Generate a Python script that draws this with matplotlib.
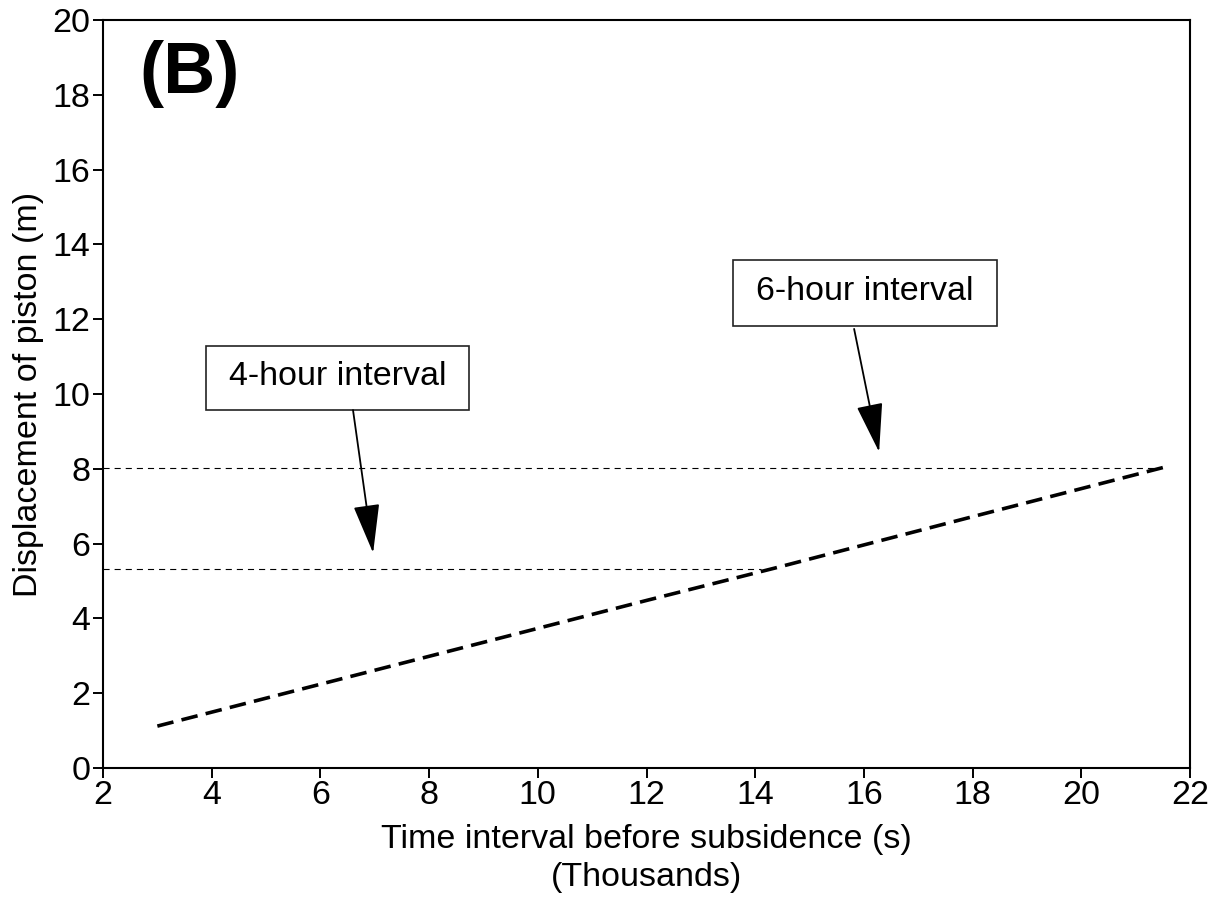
import matplotlib
matplotlib.use("Agg")
import matplotlib.pyplot as plt
from matplotlib.patches import Rectangle, FancyArrowPatch, ArrowStyle

plt.rcParams['font.family'] = ['Liberation Sans', 'DejaVu Sans']

# Piston displacement versus time before subsidence (time in thousands of s)
time_k = [3.0, 6.0, 9.0, 12.0, 14.4, 18.0, 21.6]
displacement = [1.12, 2.24, 3.36, 4.48, 5.36, 6.72, 8.07]

# Reference levels reached after 4 and 6 hours
level_labels = ["4-hour interval", "6-hour interval"]
level_values = [5.33, 8.02]
level_end_time = [14.1, 21.4]

x_ticks = [2, 4, 6, 8, 10, 12, 14, 16, 18, 20, 22]
y_ticks = [0, 2, 4, 6, 8, 10, 12, 14, 16, 18, 20]

fig = plt.figure(figsize=(12.27, 9.0), dpi=100)
ax = fig.add_axes([103 / 1227, 1 - 768 / 900, 1087 / 1227, 748 / 900])

ax.set_xlim(2, 22)
ax.set_ylim(0, 20)
ax.set_xticks(x_ticks)
ax.set_yticks(y_ticks)
ax.tick_params(direction='out', length=7, width=1.4, labelsize=24.5, pad=2)
for s in ax.spines.values():
    s.set_linewidth(1.5)

# Main relation
ax.plot(time_k, displacement, color='black', lw=2.6, dashes=(4.6, 2.3),
        solid_capstyle='butt', dash_capstyle='butt')

# Horizontal reference levels
for lv, xe in zip(level_values, level_end_time):
    ax.plot([2, xe], [lv, lv], color='black', lw=0.8, dashes=(5.5, 4.5))

# Label boxes with arrows pointing to the levels
boxes = [
    dict(x0=3.895, y0=9.57, x1=8.734, y1=11.28, tail=(6.60, 9.57), tip=(6.97, 5.75)),
    dict(x0=13.59, y0=11.82, x1=18.45, y1=13.58, tail=(15.82, 11.74), tip=(16.28, 8.45)),
]
style = ArrowStyle('-|>', head_length=31, head_width=8.3)
for lab, b in zip(level_labels, boxes):
    ax.add_patch(Rectangle((b['x0'], b['y0']), b['x1'] - b['x0'], b['y1'] - b['y0'],
                           facecolor='white', edgecolor='#222222', lw=1.2, zorder=3))
    ax.text((b['x0'] + b['x1']) / 2, (b['y0'] + b['y1']) / 2 + 0.05, lab,
            ha='center', va='center', fontsize=24.5, zorder=4)
    ax.add_patch(FancyArrowPatch(b['tail'], b['tip'], arrowstyle=style,
                                 mutation_scale=1, color='black', lw=1.3,
                                 shrinkA=0, shrinkB=0, zorder=4))

ax.text(3.6, 18.55, "(B)", fontsize=52, fontweight='bold', ha='center', va='center')

ax.set_xlabel("Time interval before subsidence (s)\n(Thousands)", fontsize=24.5,
              labelpad=9, linespacing=1.3)
ax.set_ylabel("Displacement of piston (m)", fontsize=24.5, labelpad=6)

fig.savefig("out.png", dpi=100, facecolor='white')
